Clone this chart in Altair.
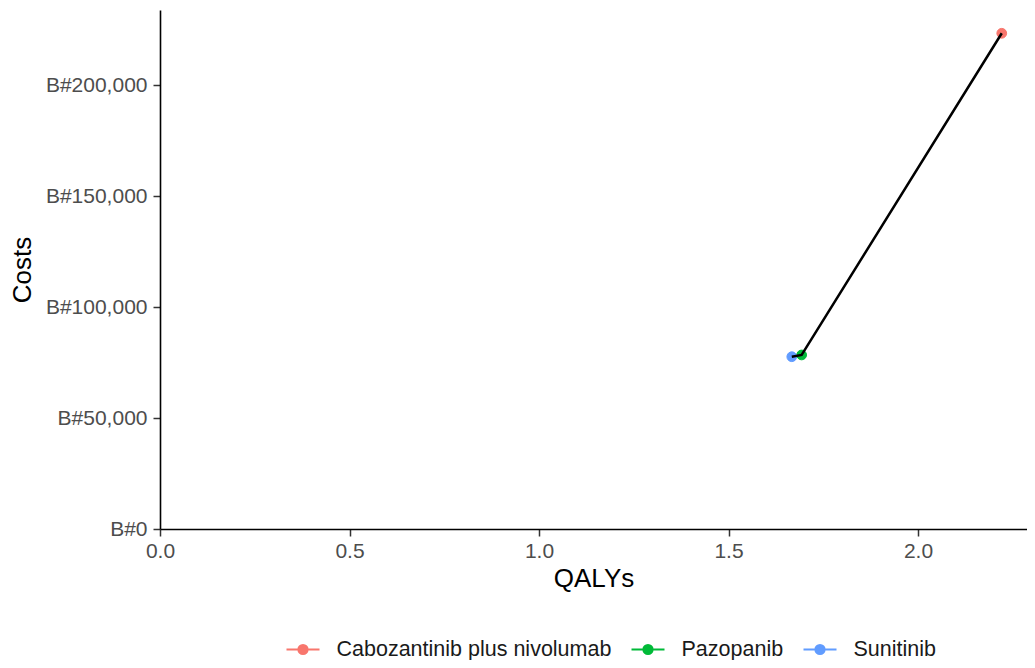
import altair as alt
import pandas as pd

treatments = ["Cabozantinib plus nivolumab", "Pazopanib", "Sunitinib"]
qalys = [2.221, 1.693, 1.667]
costs = [223300, 78400, 77600]
frontier_order = [3, 2, 1]
colors = ["#F8766D", "#00BA38", "#619CFF"]
x_ticks = [0.0, 0.5, 1.0, 1.5, 2.0]
y_ticks = [0, 50000, 100000, 150000, 200000]

df = pd.DataFrame({"Treatment": treatments, "QALYs": qalys, "Costs": costs,
                   "order": frontier_order})

W, H = 867, 519
x_scale = alt.Scale(domain=[0, W / 379.0], nice=False, zero=False)
y_scale = alt.Scale(domain=[0, H / 111.0 * 50000], nice=False, zero=False)

x_axis = alt.Axis(title="QALYs", values=x_ticks, format=".1f", grid=False,
                  labelFlush=False)
y_axis = alt.Axis(title="Costs", values=y_ticks, grid=False, labelFlush=False,
                  labelExpr="'B#' + format(datum.value, ',')")

color_scale = alt.Scale(domain=treatments, range=colors)
symbol_path = ("M-1,0H1M-0.28,0A0.28,0.28,0,1,1,0.28,0"
               "A0.28,0.28,0,1,1,-0.28,0Z")
legend = alt.Legend(title=None, orient="none", direction="horizontal",
                    legendX=125.5, legendY=622, symbolType=symbol_path,
                    symbolSize=1089, symbolStrokeWidth=2, labelOffset=16,
                    columnPadding=16, labelFontSize=21.5, labelFont="Liberation Sans",
                    labelColor="#1a1a1a", labelLimit=0, padding=0)

points = alt.Chart(df).mark_point(filled=True, size=95, strokeWidth=1, opacity=1).encode(
    x=alt.X("QALYs:Q", scale=x_scale, axis=x_axis),
    y=alt.Y("Costs:Q", scale=y_scale, axis=y_axis),
    fill=alt.Fill("Treatment:N", scale=color_scale, legend=legend),
    stroke=alt.Stroke("Treatment:N", scale=color_scale, legend=legend),
)

line = alt.Chart(df).mark_line(color="black", strokeWidth=2.5).encode(
    x=alt.X("QALYs:Q", scale=x_scale),
    y=alt.Y("Costs:Q", scale=y_scale),
    order=alt.Order("order:Q"),
)

chart = alt.layer(points, line).properties(
    width=W, height=H,
    autosize=alt.AutoSizeParams(type="none"),
    padding={"left": 152, "top": 2, "right": 0, "bottom": 131},
    background="white",
).configure_view(stroke=None).configure_axis(
    labelFont="Liberation Sans", labelFontSize=21, labelColor="#4D4D4D",
    titleFont="Liberation Sans", titleFontSize=26, titleColor="black",
    titleFontWeight="normal",
    domainColor="black", domainWidth=1.6, tickColor="#333333", tickWidth=1.5,
    tickSize=7, labelPadding=4,
).configure_axisX(titlePadding=4).configure_axisY(labelPadding=6, titlePadding=10)

chart.save("out.html", embed_options={"renderer": "svg", "actions": False})
